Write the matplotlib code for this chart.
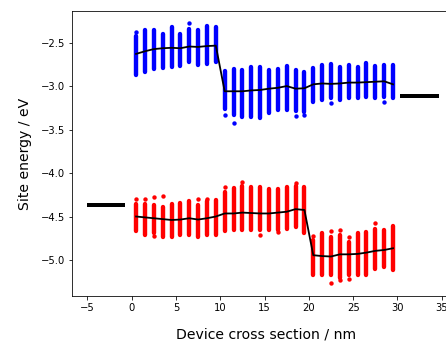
import matplotlib
matplotlib.use("Agg")
import matplotlib.pyplot as plt

# column positions along the device (nm)
x_pos = [0.5, 1.5, 2.5, 3.5, 4.5, 5.5, 6.5, 7.5, 8.5, 9.5,
         10.5, 11.5, 12.5, 13.5, 14.5, 15.5, 16.5, 17.5, 18.5, 19.5,
         20.5, 21.5, 22.5, 23.5, 24.5, 25.5, 26.5, 27.5, 28.5, 29.5]

# blue band (upper levels): spread of site energies per column + mean
blue_top = [-2.42, -2.36, -2.36, -2.40, -2.32, -2.40, -2.34, -2.35, -2.31, -2.32,
            -2.83, -2.80, -2.82, -2.78, -2.78, -2.82, -2.80, -2.77, -2.81, -2.84,
            -2.79, -2.76, -2.75, -2.78, -2.76, -2.78, -2.73, -2.77, -2.76, -2.76]
blue_bot = [-2.87, -2.84, -2.80, -2.79, -2.78, -2.77, -2.72, -2.76, -2.75, -2.72,
            -3.26, -3.33, -3.35, -3.35, -3.37, -3.31, -3.28, -3.28, -3.29, -3.30,
            -3.18, -3.16, -3.14, -3.16, -3.14, -3.14, -3.12, -3.14, -3.12, -3.14]
blue_mean = [-2.63, -2.60, -2.575, -2.565, -2.56, -2.565, -2.545, -2.55, -2.54, -2.535,
             -3.06, -3.06, -3.06, -3.05, -3.045, -3.03, -3.02, -3.00, -3.03, -3.025,
             -2.98, -2.97, -2.975, -2.97, -2.96, -2.96, -2.955, -2.95, -2.945, -2.98]
blue_out_x = [0.5, 6.5, 10.5, 11.5, 18.5, 19.5, 22.5, 28.5]
blue_out_y = [-2.38, -2.27, -3.33, -3.43, -3.34, -3.33, -3.20, -3.18]

# red band (lower levels)
red_top = [-4.36, -4.36, -4.37, -4.39, -4.36, -4.35, -4.32, -4.37, -4.32, -4.31,
           -4.22, -4.17, -4.15, -4.16, -4.16, -4.18, -4.18, -4.16, -4.15, -4.16,
           -4.77, -4.69, -4.73, -4.71, -4.79, -4.69, -4.68, -4.64, -4.66, -4.61]
red_bot = [-4.67, -4.71, -4.69, -4.73, -4.74, -4.71, -4.71, -4.74, -4.71, -4.71,
           -4.67, -4.655, -4.655, -4.655, -4.655, -4.655, -4.655, -4.64, -4.62, -4.69,
           -5.17, -5.17, -5.17, -5.21, -5.17, -5.17, -5.17, -5.10, -5.08, -5.115]
red_mean = [-4.50, -4.51, -4.52, -4.53, -4.54, -4.535, -4.52, -4.535, -4.52, -4.50,
            -4.465, -4.465, -4.455, -4.46, -4.465, -4.465, -4.455, -4.445, -4.415, -4.425,
            -4.945, -4.955, -4.96, -4.935, -4.935, -4.93, -4.915, -4.895, -4.885, -4.865]
red_out_x = [0.5, 1.5, 2.5, 2.5, 3.5, 7.5, 8.5, 10.5, 12.5, 14.5, 16.5, 18.5,
             20.5, 22.5, 22.5, 23.5, 23.5, 24.5, 24.5, 27.5]
red_out_y = [-4.30, -4.30, -4.27, -4.72, -4.26, -4.30, -4.30, -4.16, -4.10, -4.71, -4.68, -4.11,
             -4.72, -4.67, -5.27, -4.655, -5.23, -4.73, -5.22, -4.57]

# contact levels (left / right electrodes)
left_x = [-5.0, -0.7]
left_y = [-4.37, -4.37]
right_x = [30.3, 34.7]
right_y = [-3.11, -3.11]

fig = plt.figure(figsize=(446 / 72, 347 / 72), dpi=72)
ax = fig.add_axes([72 / 446, 0.147, 0.8688, 0.821])

dot = 4.4
for top, bot, col, ox, oy in [(blue_top, blue_bot, "b", blue_out_x, blue_out_y),
                              (red_top, red_bot, "r", red_out_x, red_out_y)]:
    lc = ax.vlines(x_pos, bot, top, colors=col, linewidth=dot)
    lc.set_capstyle("round")
    ax.scatter(ox, oy, s=dot ** 2, color=col, linewidths=0)

ax.plot(x_pos, blue_mean, color="k", lw=1.8)
ax.plot(x_pos, red_mean, color="k", lw=1.8)
ax.plot(left_x, left_y, color="k", lw=4, solid_capstyle="butt")
ax.plot(right_x, right_y, color="k", lw=4, solid_capstyle="butt")

ax.set_xlim(-6.73, 37.0)
ax.set_ylim(-5.414, -2.138)
ax.set_xticks([-5, 0, 5, 10, 15, 20, 25, 30, 35])
ax.set_yticks([-5.0, -4.5, -4.0, -3.5, -3.0, -2.5])
ax.tick_params(labelsize=10)
ax.set_xlabel("Device cross section / nm", fontsize=14, labelpad=15)
ax.set_ylabel("Site energy / eV", fontsize=14, labelpad=9)

fig.savefig("out.png", dpi=72)
